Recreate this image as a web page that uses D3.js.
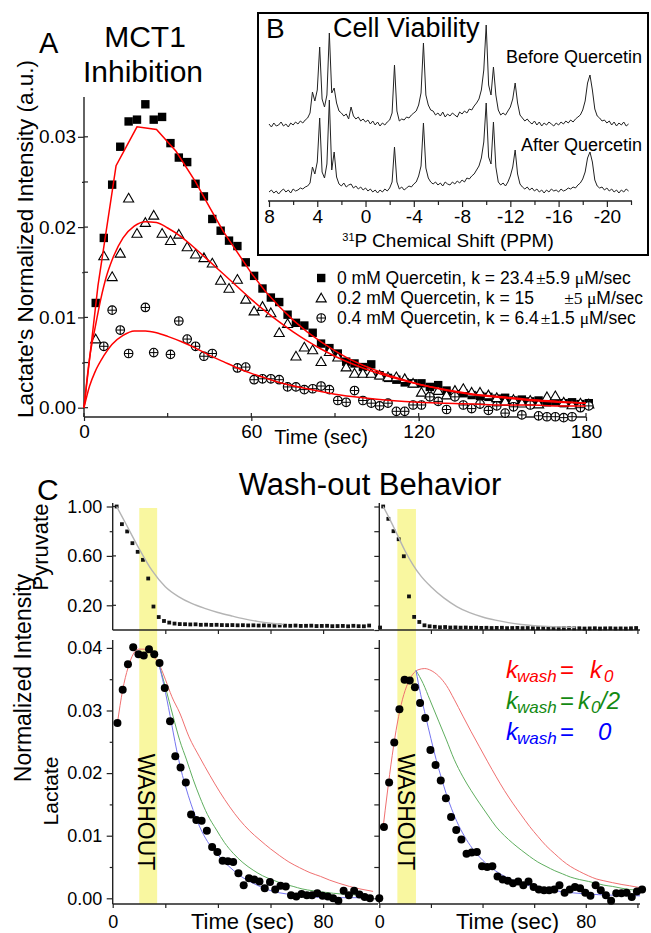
<!DOCTYPE html>
<html>
<head>
<meta charset="utf-8">
<script src="https://d3js.org/d3.v7.min.js"></script>
<style>
  body { margin: 0; background: #fff; }
  svg { display: block; }
</style>
</head>
<body>
<div id="chart"></div>
<script>
// ---------- Panel A data: lactate vs time for three quercetin doses ----------
var timeA = [4.2, 7.1, 10.1, 13, 16, 19, 22, 25, 28, 31, 34, 37, 40, 43, 46, 49, 52, 55, 58, 61,
  64, 67, 70, 73, 76, 79, 82, 85, 88, 91, 94, 97, 100, 103, 106, 109, 112, 115, 118, 121,
  124, 127, 130, 133, 136, 139, 142, 145, 148, 151, 154, 157, 160, 163, 166, 169, 172, 175, 178, 181];

var quer0 = [0.0116, 0.0188, 0.0247, 0.0289, 0.0317, 0.0319, 0.0336, 0.0319, 0.0322, 0.0293,
  0.0277, 0.0272, 0.0248, 0.0234, 0.0209, 0.0196, 0.0185, 0.0179, 0.0161, 0.0146,
  0.0132, 0.0122, 0.0117, 0.0103, 0.0094, 0.0091, 0.0083, 0.0071, 0.0066, 0.0060,
  0.0051, 0.0049, 0.0045, 0.0048, 0.0036, 0.0033, 0.0031, 0.0028, 0.0027, 0.0027,
  0.0023, 0.0025, 0.0019, 0.0015, 0.0016, 0.0014, 0.0013, 0.0012, 0.0010, 0.0011,
  0.0008, 0.0009, 0.0007, 0.0008, 0.0006, 0.0007, 0.0005, 0.0006, 0.0004, 0.0005];

var quer02 = [0.0075, 0.0167, 0.0144, 0.0170, 0.0231, 0.0192, 0.0204, 0.0212, 0.0192, 0.0184,
  0.0191, 0.0177, 0.0169, 0.0165, 0.0159, 0.0140, 0.0131, 0.0141, 0.0119, 0.0106,
  0.0111, 0.0104, 0.0082, 0.0092, 0.0056, 0.0066, 0.0063, 0.0050, 0.0061, 0.0055,
  0.0044, 0.0037, 0.0037, 0.0037, 0.0035, 0.0033, 0.0033, 0.0031, 0.0026, 0.0016,
  0.0014, 0.0018, 0.0013, 0.0018, 0.0020, 0.0016, 0.0016, 0.0013, 0.0010, 0.0006,
  0.0008, 0.0004, 0.0007, 0.0003, 0.0011, 0.0012, 0.0005, 0.0002, 0.0004, 0.0003];

var quer04 = [null, 0.0068, 0.0108, 0.0086, 0.0060, null, 0.0111, 0.0061, null, 0.0059,
  0.0096, 0.0076, 0.0068, 0.0057, 0.0060, null, null, 0.0044, 0.0045, 0.0031,
  0.0032, 0.0032, 0.0031, 0.0023, 0.0023, 0.0020, 0.0021, 0.0024, 0.0020, 0.0008,
  0.0006, 0.0019, 0.0008, 0.0005, 0.0002, 0.0005, -0.0004, -0.0004, 0.0003, 0.0003,
  0.0012, 0.0007, -0.0002, 0.0012, 0.0003, -0.0001, 0.0004, -0.0003, 0.0002, -0.0006,
  0.0001, -0.0008, 0.0003, -0.0009, -0.0010, -0.0010, -0.0011, -0.0010, 0.0000, 0.0002];

// red fit curves [time, value]
var fit0 = [[0, 0], [5, 0.0135], [11.5, 0.0268], [19, 0.0311], [26, 0.0308], [33, 0.0284], [40, 0.0250],
  [45, 0.0222], [50, 0.0195], [55, 0.0172], [60, 0.0149], [65, 0.0129], [70, 0.0112], [75, 0.0097],
  [80, 0.0084], [85, 0.0073], [90, 0.0063], [95, 0.0054], [100, 0.0047], [110, 0.0035], [120, 0.0026],
  [130, 0.0019], [140, 0.0014], [150, 0.0011], [160, 0.0008], [170, 0.0006], [180, 0.0005]];
var fit02 = [[0, 0], [2, 0.0055], [4, 0.0089], [6, 0.0120], [8, 0.0145], [10, 0.0163], [14, 0.0188],
  [18, 0.0201], [22, 0.0206], [26, 0.0205], [30, 0.0199], [35, 0.0189], [40, 0.0176], [45, 0.0162],
  [50, 0.0148], [55, 0.0134], [60, 0.0120], [65, 0.0107], [70, 0.0095], [75, 0.0084], [80, 0.0074],
  [85, 0.0065], [90, 0.0057], [100, 0.0044], [110, 0.0034], [120, 0.0026], [130, 0.0020], [140, 0.0015],
  [150, 0.0012], [160, 0.0009], [170, 0.0007], [180, 0.0005]];
var fit04 = [[0, 0], [2, 0.0024], [4, 0.0040], [7, 0.0057], [10, 0.0070], [14, 0.0080], [18, 0.0085],
  [22, 0.0085], [26, 0.0083], [30, 0.0079], [35, 0.0073], [40, 0.0066], [45, 0.0058], [50, 0.0051],
  [55, 0.0044], [60, 0.0038], [65, 0.0033], [70, 0.0028], [80, 0.0021], [90, 0.0015], [100, 0.0011],
  [110, 0.0008], [120, 0.0006], [130, 0.0005], [140, 0.0004], [150, 0.0003], [160, 0.0003],
  [170, 0.0002], [180, 0.0002]];

var aYTicks = [0, 0.01, 0.02, 0.03];
var aYMinor = [0.005, 0.015, 0.025];
var aXTicks = [0, 60, 120, 180];
var aXMinor = [30, 90, 150];

// ---------- Panel B data: 31P spectra, 0.2 ppm grid from 8 ppm ----------
var specStart = 8, specStep = 0.2;
var specBefore = [1, -2, 2, -1, 0, 3, -1, 1, -2, 2, 0, 3, 1, 4, 2,
  5, 7, 12, 33, 24,
  35, 78, 26, 18, 30, 92, 32, 37, 22, 14,
  12, 9, 11, 6, 18, 9, 6, 8, 4, 6,
  3, 5, 1, 4, 0, 3, -1, 2, 0, 3,
  5, 12, 60, 14, 4, 6, 5, 8, 7, 10,
  12, 14, 20, 32, 82, 30, 20, 15, 14, 10,
  12, 9, 13, 8, 11, 9, 12, 10, 8, 13,
  11, 14, 12, 16, 15, 19, 22, 26, 35, 55,
  100, 40, 30, 58, 30, 15, 10, 12, 10, 14,
  18, 26, 42, 22, 10, 7, 4, 6, 3, 1,
  4, 0, 3, -1, 2, 0, 3, 1, -1, 2,
  0, 3, 1, 4, 2, 5, 3, 6, 8, 10,
  15, 24, 42, 50, 35, 16, 9, 7, 4, 5,
  2, 4, 0, 3, -1, 2, 0, 3, -1, 1];
var specAfter = [0, 2, -1, 1, -2, 1, 3, 0, 2, -1, 3, 1, 2, 4, 3,
  5, 6, 9, 25, 18,
  30, 74, 20, 14, 28, 92, 22, 40, 15, 8,
  6, 9, 5, 7, 8, 4, 6, 3, 5, 2,
  4, 1, 3, 0, 2, -1, 2, 0, 3, 1,
  4, 10, 45, 10, 3, 5, 2, 4, 6, 5,
  8, 10, 16, 26, 69, 24, 14, 10, 8, 10,
  7, 9, 6, 10, 8, 7, 10, 8, 11, 9,
  12, 10, 14, 13, 16, 18, 22, 26, 34, 50,
  89, 35, 28, 70, 25, 10, 7, 9, 6, 10,
  16, 25, 42, 18, 8, 5, 3, 5, 2, 4,
  1, 3, 0, 2, -1, 2, 0, 3, 1, 2,
  0, 3, 1, 2, 4, 3, 5, 4, 7, 9,
  13, 20, 34, 40, 30, 12, 6, 4, 5, 2,
  4, 1, 3, 0, 2, -1, 2, 0, 3, 1];
var bMajor = [8, 4, 0, -4, -8, -12, -16, -20];
var bMinor = [6, 2, -2, -6, -10, -14, -18, -22];

// ---------- Panel C data: wash-out ----------
var timePyrL = [1.5, 3.5, 5.5, 7.5, 9.5, 11.5, 13.5, 15.5, 17.5, 19.5, 21.5, 23.5, 25.5, 27.5, 29.5,
  31.5, 33.5, 35.5, 37.5, 39.5, 41.5, 43.5, 45.5, 47.5, 49.5, 51.5, 53.5, 55.5, 57.5, 59.5,
  61.5, 63.5, 65.5, 67.5, 69.5, 71.5, 73.5, 75.5, 77.5, 79.5, 81.5, 83.5, 85.5, 87.5, 89.5,
  91.5, 93.5, 95.5, 97.5];
var pyrL = [1.00, 0.857, 0.798, 0.703, 0.633, 0.568, 0.417, 0.190, 0.105, 0.073, 0.060,
  0.052, 0.048, 0.047, 0.045, 0.046, 0.042, 0.043, 0.041, 0.042, 0.040,
  0.039, 0.040, 0.038, 0.039, 0.037, 0.038, 0.036, 0.037, 0.036, 0.035,
  0.036, 0.035, 0.034, 0.036, 0.033, 0.034, 0.035, 0.032, 0.033, 0.034,
  0.031, 0.032, 0.033, 0.030, 0.034, 0.031, 0.030, 0.036];
var pyrFitL = [[1.5, 1.0], [5, 0.86], [10, 0.66], [15, 0.48], [20, 0.35], [25, 0.27], [30, 0.215],
  [35, 0.175], [40, 0.142], [45, 0.115], [50, 0.09], [55, 0.07], [60, 0.055], [65, 0.045]];

var timePyrR = [0.3, 1.5, 3.5, 5.5, 7.5, 9.5, 11.5, 13.5, 15.5, 17.5, 19.5, 21.5, 23.5, 25.5, 27.5, 29.5,
  31.5, 33.5, 35.5, 37.5, 39.5, 41.5, 43.5, 45.5, 47.5, 49.5, 51.5, 53.5, 55.5, 57.5, 59.5,
  61.5, 63.5, 65.5, 67.5, 69.5, 71.5, 73.5, 75.5, 77.5, 79.5, 81.5, 83.5, 85.5, 87.5, 89.5,
  91.5, 93.5, 95.5, 97.5, 99.5];
var pyrR = [0.02, 1.00, 0.90, 0.80, 0.735, 0.597, 0.272, 0.106, 0.065, 0.038, 0.030,
  0.026, 0.022, 0.024, 0.020, 0.021, 0.019, 0.020, 0.018, 0.019, 0.017,
  0.018, 0.016, 0.017, 0.018, 0.015, 0.016, 0.017, 0.015, 0.016, 0.014,
  0.015, 0.016, 0.014, 0.015, 0.013, 0.014, 0.015, 0.013, 0.014, 0.012,
  0.013, 0.014, 0.012, 0.013, 0.014, 0.012, 0.013, 0.012, 0.014, 0.016];
var pyrFitR = [[1.5, 1.0], [4, 0.90], [7, 0.77], [10, 0.64], [13, 0.53], [16, 0.44], [20, 0.35],
  [25, 0.26], [30, 0.19], [35, 0.14], [40, 0.105], [45, 0.08], [50, 0.06], [55, 0.045],
  [60, 0.035], [70, 0.025], [76, 0.02]];

var timeLacL = [1.8, 3.8, 5.8, 7.8, 9.8, 11.8, 13.8, 15.8, 17.8, 19.8, 21.8, 23.8, 25.8, 27.8, 29.8,
  31.8, 33.8, 35.8, 37.8, 39.8, 41.8, 43.8, 45.8, 47.8, 49.8, 51.8, 53.8, 55.8, 57.8, 59.8,
  61.8, 63.8, 65.8, 67.8, 69.8, 71.8, 73.8, 75.8, 77.8, 79.8, 81.8, 83.8, 85.8, 87.8, 89.8,
  91.8, 93.8, 95.8, 97.8];
var lacL = [0.0280, 0.0333, 0.0374, 0.0401, 0.0390, 0.0388, 0.0398, 0.0390, 0.0376, 0.0336,
  0.0283, 0.0227, 0.0209, 0.0185, 0.0134, 0.0125, 0.0124, 0.0108, 0.0082, 0.0074,
  0.0060, 0.0059, 0.0058, 0.0040, 0.0021, 0.0032, 0.0030, 0.0027, 0.0016, 0.0026,
  0.0014, 0.0020, 0.0019, 0.0005, 0.0003, 0.0007, 0.0005, 0.0005, 0.0008, 0.0004,
  0.0003, 0.0000, -0.0004, 0.0012, 0.0005, 0.0012, 0.0006, 0.0002, 0.0000];

var timeLacR = [0, 1.8, 3.8, 5.8, 7.8, 9.8, 11.8, 13.8, 15.8, 17.8, 19.8, 21.8, 23.8, 25.8, 27.8, 29.8,
  31.8, 33.8, 35.8, 37.8, 39.8, 41.8, 43.8, 45.8, 47.8, 49.8, 51.8, 53.8, 55.8, 57.8, 59.8,
  61.8, 63.8, 65.8, 67.8, 69.8, 71.8, 73.8, 75.8, 77.8, 79.8, 81.8, 83.8, 85.8, 87.8, 89.8,
  91.8, 93.8, 95.8, 97.8, 99.8, 101.8];
var lacR = [0.0000, 0.0114, 0.0185, 0.0249, 0.0302, 0.0349, 0.0348, 0.0337, 0.0312, 0.0288, 0.0237,
  0.0213, 0.0188, 0.0160, 0.0130, 0.0109, 0.0094, 0.0071, 0.0073, 0.0074, 0.0051,
  0.0050, 0.0051, 0.0035, 0.0030, 0.0028, 0.0024, 0.0027, 0.0021, 0.0027, 0.0018,
  0.0014, 0.0013, 0.0013, 0.0014, 0.0021, 0.0009, 0.0014, 0.0018, 0.0016, 0.0009,
  0.0004, 0.0021, 0.0013, 0.0005, -0.0004, 0.0008, 0.0008, 0.0009, 0.0002, 0.0011, 0.0014];

// model curves: kwash = k0 (red), k0/2 (green), 0 (blue)
var redL = [[1.8, 0.0280], [3.8, 0.0333], [5.8, 0.0368], [7.8, 0.0390], [9.8, 0.0398], [12, 0.0398],
  [14, 0.0393], [16, 0.0384], [17.5, 0.0375], [20, 0.0350], [22.5, 0.0322], [25.5, 0.0296], [29, 0.0258],
  [33, 0.0226], [37, 0.0196], [40.7, 0.0170], [44.5, 0.0146], [48.3, 0.0125], [52, 0.0108], [56, 0.0093],
  [60, 0.0079], [63.5, 0.0068], [67, 0.0058], [71, 0.0049], [75, 0.0041], [79, 0.0035], [82.5, 0.0029],
  [86, 0.0024], [90, 0.0019], [94, 0.0015], [99, 0.0011]];
var greenL = [[17.5, 0.0375], [20, 0.0338], [23, 0.0290], [25.5, 0.0252], [28.1, 0.0221], [30.5, 0.0191],
  [33.1, 0.0162], [36, 0.0134], [39.5, 0.0109], [42.5, 0.0089], [45.8, 0.0072], [49.5, 0.0057],
  [53.4, 0.0045], [57, 0.0036], [61, 0.0029], [65, 0.0023], [68.6, 0.0019], [72, 0.0015], [76.2, 0.0012],
  [80, 0.0010], [84, 0.0008], [90, 0.0006], [99, 0.0004]];
var blueL = [[17.5, 0.0375], [19.5, 0.0340], [21.8, 0.0292], [24.3, 0.0237], [26, 0.0205], [28.1, 0.0173],
  [30.5, 0.0142], [33.1, 0.0114], [36, 0.0091], [39.5, 0.0072], [42.5, 0.0058], [45.8, 0.0045],
  [49.5, 0.0033], [53.4, 0.0024], [57, 0.0017], [61, 0.0011], [66, 0.0007], [71, 0.0004], [77, 0.0002],
  [85, 0.0001], [99, 0.0001]];
var redR = [[1.5, 0.0114], [3, 0.0165], [5, 0.0228], [7, 0.0280], [9, 0.0318], [11, 0.0343], [13, 0.0358],
  [15, 0.0365], [17.6, 0.0367], [20, 0.0364], [23, 0.0355], [26, 0.0340], [29, 0.0318], [32.4, 0.0291],
  [35.6, 0.0266], [38.8, 0.0242], [42, 0.0218], [45.3, 0.0194], [48.5, 0.0172], [51.7, 0.0152],
  [55, 0.0133], [58.2, 0.0115], [61.4, 0.0099], [64.6, 0.0084], [68, 0.0071], [71, 0.0060], [74, 0.0051],
  [77.5, 0.0043], [81, 0.0036], [84, 0.0031], [87, 0.0028], [90.3, 0.0025], [94, 0.0022], [97, 0.0020],
  [101, 0.0017]];
var greenR = [[14.2, 0.0364], [17, 0.0343], [19.6, 0.0317], [23, 0.0283], [26, 0.0253], [29, 0.0222],
  [32.4, 0.0194], [35.6, 0.0172], [38.8, 0.0152], [42, 0.0133], [45.3, 0.0114], [48.5, 0.0100],
  [51.7, 0.0088], [55, 0.0077], [58.2, 0.0067], [61.4, 0.0058], [64.6, 0.0051], [68, 0.0044], [71, 0.0039],
  [74, 0.0034], [77.5, 0.0030], [81, 0.0027], [84, 0.0024], [87, 0.0021], [90.3, 0.0019], [94, 0.0016],
  [97, 0.0014], [101, 0.0013]];
var blueR = [[14.2, 0.0364], [16, 0.0326], [18, 0.0290], [20, 0.0255], [22, 0.0222], [24, 0.0193],
  [26, 0.0166], [28, 0.0143], [30, 0.0123], [33, 0.0099], [36, 0.0080], [40, 0.0061], [45, 0.0044],
  [50, 0.0032], [55, 0.0024], [60, 0.0018], [65, 0.0014], [70, 0.0011], [80, 0.0007], [90, 0.0005],
  [101, 0.0004]];

var washL = [10.1, 16.9];
var washR = [7.0, 14.2];
var pyrTicks = [0, 0.2, 0.4, 0.6, 0.8, 1.0];
var pyrLabeled = [0.2, 0.6, 1.0];
var lacTicks = [0, 0.01, 0.02, 0.03, 0.04];
var lacMinor = [0.005, 0.015, 0.025, 0.035];
var cXTicks = [0, 20, 40, 60, 80];
var cXTicksR = [0, 20, 40, 60, 80, 100];

// ---------- SVG ----------
var FONT = '"Liberation Sans", Arial, Helvetica, sans-serif';
var SERIF = '"Liberation Serif", "Times New Roman", serif';
var svgWidth = 651, svgHeight = 933;

var svg = d3.select("#chart").append("svg")
  .attr("width", svgWidth)
  .attr("height", svgHeight)
  .attr("font-family", FONT);

svg.append("rect").attr("width", svgWidth).attr("height", svgHeight).attr("fill", "#fff");

function styleAxis(g, fs) {
  g.attr("font-family", null).attr("font-size", null);
  g.select(".domain").remove();
  g.selectAll("line").attr("stroke", "#222").attr("stroke-width", 1.2);
  g.selectAll("text").attr("font-size", fs).attr("font-family", FONT).attr("fill", "#000");
  return g;
}

function vLine(x, y1, y2) {
  svg.append("line").attr("x1", x).attr("x2", x).attr("y1", y1).attr("y2", y2)
    .attr("stroke", "#222").attr("stroke-width", 1.4);
}
function hLine(y, x1, x2) {
  svg.append("line").attr("x1", x1).attr("x2", x2).attr("y1", y).attr("y2", y)
    .attr("stroke", "#222").attr("stroke-width", 1.4);
}

// ======================= Panel A =======================
var xA = d3.scaleLinear().domain([0, 180]).range([84, 586]);
var yA = d3.scaleLinear().domain([0, 0.03]).range([407.7, 136.8]);

vLine(84, 97, 417);
hLine(417, 84, 586);

styleAxis(svg.append("g").attr("transform", "translate(84,0)")
  .call(d3.axisLeft(yA).tickValues(aYTicks).tickSize(6).tickPadding(2).tickFormat(d3.format(".2f"))), 19);
styleAxis(svg.append("g").attr("transform", "translate(84,0)")
  .call(d3.axisLeft(yA).tickValues(aYMinor).tickSize(2).tickFormat("")), 19);
// inner half of the crossing ticks
svg.selectAll(".aYin").data(aYTicks.concat(aYMinor)).enter().append("line")
  .attr("x1", 84).attr("x2", 88).attr("y1", d => yA(d)).attr("y2", d => yA(d))
  .attr("stroke", "#222").attr("stroke-width", 1.2);

styleAxis(svg.append("g").attr("transform", "translate(0,417)")
  .call(d3.axisBottom(xA).tickValues(aXTicks).tickSize(4).tickPadding(4).tickFormat(d3.format("d"))), 19);
svg.selectAll(".aXin").data(aXTicks.concat(aXMinor)).enter().append("line")
  .attr("x1", d => xA(d)).attr("x2", d => xA(d)).attr("y1", 413).attr("y2", 417)
  .attr("stroke", "#222").attr("stroke-width", 1.2);

svg.append("text").attr("x", 321).attr("y", 444).attr("text-anchor", "middle")
  .attr("font-size", 20).text("Time (sec)");

svg.append("text").attr("transform", "translate(33,239) rotate(-90)").attr("text-anchor", "middle")
  .attr("font-size", 22.5).text("Lactate's Normalized Intensity (a.u.)");

svg.append("text").attr("x", 39).attr("y", 53).attr("font-size", 29).text("A");
svg.append("text").attr("x", 145).attr("y", 47).attr("text-anchor", "middle").attr("font-size", 30).text("MCT1");
svg.append("text").attr("x", 143).attr("y", 82).attr("text-anchor", "middle").attr("font-size", 30).text("Inhibition");

// markers
var ptsA0 = timeA.map((t, i) => [t, quer0[i]]);
var ptsA02 = timeA.map((t, i) => [t, quer02[i]]);
var ptsA04 = timeA.map((t, i) => [t, quer04[i]]).filter(d => d[1] !== null);

var gA = svg.append("g");
gA.selectAll(".sq").data(ptsA0).enter().append("rect")
  .attr("x", d => xA(d[0]) - 4.2).attr("y", d => yA(d[1]) - 4.2)
  .attr("width", 8.4).attr("height", 8.4).attr("fill", "#000");

var tri = d3.symbol().type(d3.symbolTriangle).size(44);
gA.selectAll(".tri").data(ptsA02).enter().append("path")
  .attr("d", tri).attr("transform", d => `translate(${xA(d[0])},${yA(d[1])})`)
  .attr("fill", "#fff").attr("stroke", "#000").attr("stroke-width", 1.1);

function circlePlus(sel, r) {
  sel.append("circle").attr("r", r).attr("fill", "#fff").attr("stroke", "#000").attr("stroke-width", 1.1);
  sel.append("line").attr("x1", -r).attr("x2", r).attr("stroke", "#000").attr("stroke-width", 1);
  sel.append("line").attr("y1", -r).attr("y2", r).attr("stroke", "#000").attr("stroke-width", 1);
}
var cp = gA.selectAll(".cp").data(ptsA04).enter().append("g")
  .attr("transform", d => `translate(${xA(d[0])},${yA(d[1])})`);
circlePlus(cp, 4.3);

// fits on top
var lineA = d3.line().x(d => xA(d[0])).y(d => yA(d[1]));
gA.append("path").datum(fit0).attr("d", lineA).attr("fill", "none").attr("stroke", "#f00").attr("stroke-width", 1.5);
gA.append("path").datum(fit02).attr("d", lineA.curve(d3.curveMonotoneX)).attr("fill", "none").attr("stroke", "#f00").attr("stroke-width", 1.5);
gA.append("path").datum(fit04).attr("d", lineA.curve(d3.curveMonotoneX)).attr("fill", "none").attr("stroke", "#f00").attr("stroke-width", 1.5);

// legend
var legY = [278, 298, 318];
var legG = svg.append("g").attr("font-size", 17.5);
legG.append("rect").attr("x", 317).attr("y", legY[0] - 4.2).attr("width", 8.4).attr("height", 8.4).attr("fill", "#000");
legG.append("path").attr("d", tri).attr("transform", `translate(321.2,${legY[1] + 1})`)
  .attr("fill", "#fff").attr("stroke", "#000").attr("stroke-width", 1.1);
circlePlus(legG.append("g").attr("transform", `translate(321.2,${legY[2]})`), 4.3);

function legRow(y, head, err) {
  var t = legG.append("text").attr("x", 337).attr("y", y);
  t.append("tspan").text(head);
  t.append("tspan").attr("font-family", SERIF).attr("dx", 2).text("\u00b1");
  t.append("tspan").text(err + " ");
  t.append("tspan").attr("font-family", SERIF).text("\u03bc");
  t.append("tspan").text("M/sec");
}
legRow(legY[0] + 6, "0 mM Quercetin, k = 23.4", "5.9");
legG.append("text").attr("x", 337).attr("y", legY[1] + 6).text("0.2 mM Quercetin, k = 15");
var l2b = legG.append("text").attr("x", 643).attr("y", legY[1] + 6).attr("text-anchor", "end");
l2b.append("tspan").attr("font-family", SERIF).text("\u00b15 \u03bc");
l2b.append("tspan").text("M/sec");
legRow(legY[2] + 6, "0.4 mM Quercetin, k = 6.4", "1.5");

// ======================= Panel B (inset) =======================
svg.append("rect").attr("x", 258).attr("y", 13).attr("width", 390).attr("height", 242)
  .attr("fill", "#fff").attr("stroke", "#000").attr("stroke-width", 2);

var xB = d3.scaleLinear().domain([8, -22]).range([269, 631]);
var yBefore = d3.scaleLinear().domain([0, 100]).range([125, 25]);
var yAfter = d3.scaleLinear().domain([0, 100]).range([192, 92]);

hLine(201, 268, 632);
styleAxis(svg.append("g").attr("transform", "translate(0,201)")
  .call(d3.axisBottom(xB).tickValues(bMajor).tickSize(6).tickPadding(3).tickFormat(d => String(d))), 19);
styleAxis(svg.append("g").attr("transform", "translate(0,201)")
  .call(d3.axisBottom(xB).tickValues(bMinor).tickSize(4).tickFormat("")), 19);

svg.append("path").datum(specBefore)
  .attr("d", d3.line().x((d, i) => xB(specStart - i * specStep)).y(d => yBefore(d)))
  .attr("fill", "none").attr("stroke", "#222").attr("stroke-width", 1);
svg.append("path").datum(specAfter)
  .attr("d", d3.line().x((d, i) => xB(specStart - i * specStep)).y(d => yAfter(d)))
  .attr("fill", "none").attr("stroke", "#222").attr("stroke-width", 1);

svg.append("text").attr("x", 266).attr("y", 38).attr("font-size", 28).text("B");
svg.append("text").attr("x", 333).attr("y", 37).attr("font-size", 27).text("Cell Viability");
svg.append("text").attr("x", 642).attr("y", 63).attr("text-anchor", "end").attr("font-size", 18).text("Before Quercetin");
svg.append("text").attr("x", 642).attr("y", 151).attr("text-anchor", "end").attr("font-size", 18).text("After Quercetin");
var bx = svg.append("text").attr("x", 448).attr("y", 247).attr("text-anchor", "middle").attr("font-size", 19);
bx.append("tspan").attr("font-size", 11).attr("dy", -6).text("31");
bx.append("tspan").attr("dy", 6).text("P Chemical Shift (PPM)");

// ======================= Panel C =======================
svg.append("text").attr("x", 37).attr("y", 500).attr("font-size", 30).text("C");
svg.append("text").attr("x", 370).attr("y", 495).attr("text-anchor", "middle").attr("font-size", 31).text("Wash-out Behavior");

var xPL = d3.scaleLinear().domain([0, 99.5]).range([112.7, 374.4]);
var xPR = d3.scaleLinear().domain([0, 101]).range([379.3, 640]);
var yP = d3.scaleLinear().domain([0, 1]).range([630, 506.5]);
var yL = d3.scaleLinear().domain([0, 0.04]).range([898.3, 647.9]);

// washout bands
svg.append("rect").attr("x", xPL(washL[0])).attr("y", 508).attr("width", xPL(washL[1]) - xPL(washL[0]))
  .attr("height", 904 - 508).attr("fill", "#f9f7a0");
svg.append("rect").attr("x", xPR(washR[0])).attr("y", 509).attr("width", xPR(washR[1]) - xPR(washR[0]))
  .attr("height", 904 - 509).attr("fill", "#f9f7a0");

// axes: top-left
vLine(112.7, 503, 630);
hLine(630, 112.7, 374);
styleAxis(svg.append("g").attr("transform", "translate(112.7,0)")
  .call(d3.axisLeft(yP).tickValues(pyrLabeled).tickSize(6).tickPadding(4.5).tickFormat(d3.format(".2f"))), 18);
styleAxis(svg.append("g").attr("transform", "translate(112.7,0)")
  .call(d3.axisLeft(yP).tickValues([0.4, 0.8]).tickSize(3).tickFormat("")), 18);
svg.selectAll(".pin").data(pyrLabeled).enter().append("line")
  .attr("x1", 112.7).attr("x2", 116).attr("y1", d => yP(d)).attr("y2", d => yP(d))
  .attr("stroke", "#222").attr("stroke-width", 1.2);
styleAxis(svg.append("g").attr("transform", "translate(0,630)")
  .call(d3.axisBottom(xPL).tickValues(cXTicks.slice(1)).tickSize(4).tickFormat("")), 18);

// axes: top-right
vLine(379.3, 503, 630);
hLine(630, 379.3, 640);
styleAxis(svg.append("g").attr("transform", "translate(379.3,0)")
  .call(d3.axisLeft(yP).tickValues(pyrTicks).tickSize(5).tickFormat("")), 18);
styleAxis(svg.append("g").attr("transform", "translate(0,630)")
  .call(d3.axisBottom(xPR).tickValues(cXTicksR.slice(1)).tickSize(4).tickFormat("")), 18);

// axes: bottom-left
vLine(112.7, 640, 904);
hLine(904, 112.7, 378);
styleAxis(svg.append("g").attr("transform", "translate(112.7,0)")
  .call(d3.axisLeft(yL).tickValues(lacTicks).tickSize(6).tickPadding(4.5).tickFormat(d3.format(".2f"))), 18);
styleAxis(svg.append("g").attr("transform", "translate(112.7,0)")
  .call(d3.axisLeft(yL).tickValues(lacMinor).tickSize(3).tickFormat("")), 18);
styleAxis(svg.append("g").attr("transform", "translate(0,904)")
  .call(d3.axisBottom(xPL).tickValues(cXTicks).tickSize(4).tickPadding(7)
    .tickFormat(d => (d === 0 || d === 80) ? String(d) : "")), 18);

// axes: bottom-right
vLine(379.3, 640, 904);
hLine(904, 379.3, 640);
styleAxis(svg.append("g").attr("transform", "translate(379.3,0)")
  .call(d3.axisLeft(yL).tickValues(lacTicks.concat(lacMinor)).tickSize(5).tickFormat("")), 18);
styleAxis(svg.append("g").attr("transform", "translate(0,904)")
  .call(d3.axisBottom(xPR).tickValues(cXTicksR).tickSize(4).tickPadding(7)
    .tickFormat(d => (d === 0 || d === 80) ? String(d) : "")), 18);

svg.append("text").attr("x", 242.5).attr("y", 929).attr("text-anchor", "middle").attr("font-size", 22).text("Time (sec)");
svg.append("text").attr("x", 507.5).attr("y", 929).attr("text-anchor", "middle").attr("font-size", 22).text("Time (sec)");

svg.append("text").attr("transform", "translate(31,678) rotate(-90)").attr("text-anchor", "middle")
  .attr("font-size", 23).text("Normalized Intensity");
svg.append("text").attr("transform", "translate(48,547) rotate(-90)").attr("text-anchor", "middle")
  .attr("font-size", 22).text("Pyruvate");
svg.append("text").attr("transform", "translate(58,791) rotate(-90)").attr("text-anchor", "middle")
  .attr("font-size", 21).text("Lactate");

svg.append("text").attr("transform", "translate(138,812) rotate(90)").attr("text-anchor", "middle")
  .attr("font-size", 23).text("WASHOUT");
svg.append("text").attr("transform", "translate(398,812) rotate(90)").attr("text-anchor", "middle")
  .attr("font-size", 23).text("WASHOUT");

// pyruvate squares + gray decay
var gC = svg.append("g");
gC.selectAll(".pl").data(timePyrL.map((t, i) => [t, pyrL[i]])).enter().append("rect")
  .attr("x", d => xPL(d[0]) - 1.9).attr("y", d => yP(d[1]) - 1.9).attr("width", 3.8).attr("height", 3.8).attr("fill", "#111");
gC.selectAll(".pr").data(timePyrR.map((t, i) => [t, pyrR[i]])).enter().append("rect")
  .attr("x", d => xPR(d[0]) - 1.9).attr("y", d => yP(d[1]) - 1.9).attr("width", 3.8).attr("height", 3.8).attr("fill", "#111");
gC.append("path").datum(pyrFitL)
  .attr("d", d3.line().x(d => xPL(d[0])).y(d => yP(d[1])).curve(d3.curveMonotoneX))
  .attr("fill", "none").attr("stroke", "#b4b4b4").attr("stroke-width", 1.4);
gC.append("path").datum(pyrFitR)
  .attr("d", d3.line().x(d => xPR(d[0])).y(d => yP(d[1])).curve(d3.curveMonotoneX))
  .attr("fill", "none").attr("stroke", "#b4b4b4").attr("stroke-width", 1.4);

// lactate model curves
var lineL = d3.line().x(d => xPL(d[0])).y(d => yL(d[1])).curve(d3.curveMonotoneX);
var lineR = d3.line().x(d => xPR(d[0])).y(d => yL(d[1])).curve(d3.curveMonotoneX);
var curveCol = { red: "#f07070", green: "#5fae5f", blue: "#7474f0" };
gC.append("path").datum(redL).attr("d", lineL).attr("fill", "none").attr("stroke", curveCol.red).attr("stroke-width", 1);
gC.append("path").datum(greenL).attr("d", lineL).attr("fill", "none").attr("stroke", curveCol.green).attr("stroke-width", 1);
gC.append("path").datum(blueL).attr("d", lineL).attr("fill", "none").attr("stroke", curveCol.blue).attr("stroke-width", 1);
gC.append("path").datum(redR).attr("d", lineR).attr("fill", "none").attr("stroke", curveCol.red).attr("stroke-width", 1);
gC.append("path").datum(greenR).attr("d", lineR).attr("fill", "none").attr("stroke", curveCol.green).attr("stroke-width", 1);
gC.append("path").datum(blueR).attr("d", lineR).attr("fill", "none").attr("stroke", curveCol.blue).attr("stroke-width", 1);

// lactate points
gC.selectAll(".ll").data(timeLacL.map((t, i) => [t, lacL[i]])).enter().append("circle")
  .attr("cx", d => xPL(d[0])).attr("cy", d => yL(d[1])).attr("r", 4).attr("fill", "#000");
gC.selectAll(".lr").data(timeLacR.map((t, i) => [t, lacR[i]])).enter().append("circle")
  .attr("cx", d => xPR(d[0])).attr("cy", d => yL(d[1])).attr("r", 4).attr("fill", "#000");

// kwash legend
function kRow(y, color, parts) {
  var t = svg.append("text").attr("y", y).attr("fill", color).attr("font-size", 24).attr("font-style", "italic");
  parts.forEach(function(p) {
    var s = t.append("tspan").attr("x", p.x).text(p.s);
    if (p.sub) s.attr("font-size", 17).attr("dy", 4);
    if (p.up) s.attr("dy", -4);
    if (p.normal) s.attr("font-style", "normal");
  });
}
kRow(678, "#ff0000", [{ x: 506, s: "k" }, { x: 517, s: "wash", sub: true }, { x: 560, s: "=", up: true, normal: true },
  { x: 590, s: "k" }, { x: 604, s: "0", sub: true }]);
kRow(709, "#138a13", [{ x: 506, s: "k" }, { x: 517, s: "wash", sub: true }, { x: 560, s: "=", up: true, normal: true },
  { x: 578, s: "k" }, { x: 591, s: "0", sub: true }, { x: 600, s: "/2", up: true }]);
kRow(740, "#0000ff", [{ x: 506, s: "k" }, { x: 517, s: "wash", sub: true }, { x: 560, s: "=", up: true, normal: true },
  { x: 598, s: "0" }]);
</script>
</body>
</html>
